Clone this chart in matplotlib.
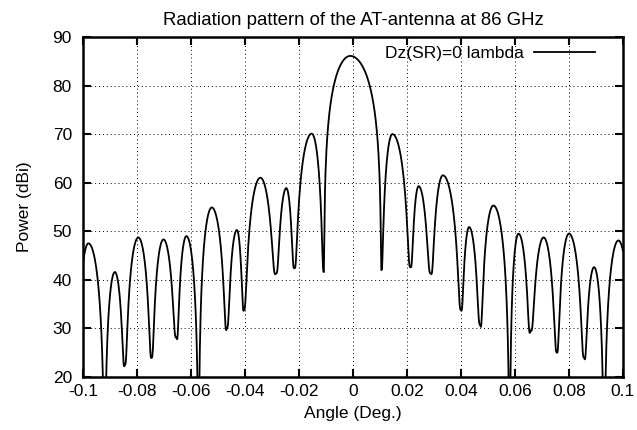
import numpy as np
import matplotlib
matplotlib.use("Agg")
import matplotlib.pyplot as plt

plt.rcParams['font.family'] = ['Liberation Sans', 'DejaVu Sans']

# lobe peaks (deg, dBi)
peak_x = [-0.098, -0.0882, -0.0795, -0.0702, -0.0617, -0.0523, -0.043, -0.0343,
          -0.0247, -0.0153, -0.001, 0.0146, 0.0243, 0.0333, 0.043, 0.052, 0.0613,
          0.0706, 0.080, 0.0893, 0.0983]
peak_db = [47.5, 41.6, 48.7, 48.3, 49.0, 54.9, 50.2, 61.0, 58.8, 70.1, 86.1,
           70.0, 59.2, 61.5, 50.8, 55.3, 49.5, 48.7, 49.5, 42.6, 48.1]

# nulls between the lobes (deg, dBi); deep ones run off the bottom
null_x = [-0.1025, -0.092, -0.0845, -0.0746, -0.0654, -0.0572, -0.0467, -0.0404,
          -0.0285, -0.0217, -0.0108, 0.0105, 0.0213, 0.0288, 0.040, 0.0471, 0.058,
          0.0658, 0.0755, 0.0856, 0.093, 0.1035]
null_db = [30, 10, 22.5, 23.9, 28.2, 10, 30.0, 33.7, 41.3, 42.4, 41.6, 42.0,
           42.6, 41.3, 33.7, 30.7, 10, 29.6, 25.0, 24.0, 10, 30]

xticks = [-0.1, -0.08, -0.06, -0.04, -0.02, 0, 0.02, 0.04, 0.06, 0.08, 0.1]
xticklabels = ['-0.1', '-0.08', '-0.06', '-0.04', '-0.02', '0', '0.02', '0.04',
               '0.06', '0.08', '0.1']
yticks = [20, 30, 40, 50, 60, 70, 80, 90]


def lobe(a, p, b, peak, da, db, k, n=200):
    # one arch between two nulls, peaking at p
    x = np.linspace(a, b, n)
    t = np.where(x <= p, 0.5 * (x - a) / (p - a), 0.5 + 0.5 * (x - p) / (b - p))
    floor = 10 ** ((da + (db - da) * t) / 10)
    lin = 10 ** (peak / 10) * np.sin(np.pi * t) ** (2 * k) + floor
    return x, 10 * np.log10(lin)


main = int(np.argmax(peak_db))
xs, ys = [], []
for i in range(len(peak_x)):
    k = 1.2 if i == main else 1.8  # side lobes are narrower than a plain sine
    x, y = lobe(null_x[i], peak_x[i], null_x[i + 1], peak_db[i],
                null_db[i], null_db[i + 1], k)
    xs.append(x)
    ys.append(y)
xs = np.concatenate(xs)
ys = np.concatenate(ys)

fig = plt.figure(figsize=(6.37, 4.30), dpi=100)
ax = fig.add_axes([0.1303, 0.1233, 0.8477, 0.7907])

ax.plot(xs, ys, color='black', lw=1.3, label='Dz(SR)=0 lambda')

ax.set_xlim(-0.1, 0.1)
ax.set_ylim(20, 90)
ax.set_xticks(xticks)
ax.set_xticklabels(xticklabels)
ax.set_yticks(yticks)
ax.grid(True, color='black', linestyle=(0, (1, 3)), lw=0.7)
ax.tick_params(direction='in', top=True, right=True, length=6, width=1.5,
               labelsize=12.5, pad=5)
ax.tick_params(axis='y', pad=8)
for s in ax.spines.values():
    s.set_linewidth(1.8)

ax.set_title('Radiation pattern of the AT-antenna at 86 GHz', fontsize=13.4, pad=8.5)
ax.set_xlabel('Angle (Deg.)', fontsize=12.5, labelpad=5)
ax.set_ylabel('Power (dBi)', fontsize=12.5, labelpad=15)

leg = ax.legend(loc='upper right', bbox_to_anchor=(0.961, 0.995), frameon=False,
                fontsize=12.5, handlelength=3.5, handletextpad=0.6,
                borderaxespad=0, markerfirst=False)

fig.savefig('out.png', dpi=100)
